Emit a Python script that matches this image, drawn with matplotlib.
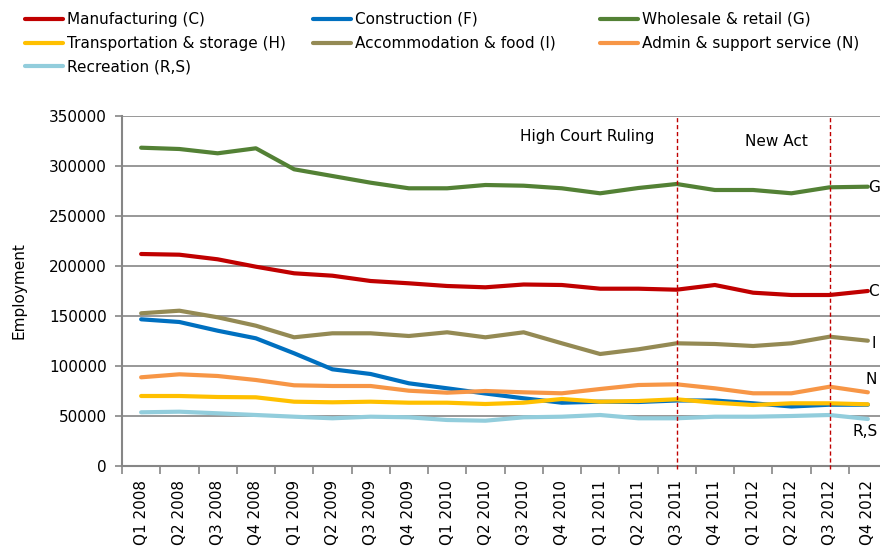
import matplotlib
matplotlib.use("Agg")
import matplotlib.pyplot as plt
import numpy as np

# data
quarters = ["Q1 2008", "Q2 2008", "Q3 2008", "Q4 2008",
            "Q1 2009", "Q2 2009", "Q3 2009", "Q4 2009",
            "Q1 2010", "Q2 2010", "Q3 2010", "Q4 2010",
            "Q1 2011", "Q2 2011", "Q3 2011", "Q4 2011",
            "Q1 2012", "Q2 2012", "Q3 2012", "Q4 2012"]

manufacturing = [212000, 211300, 206700, 199300, 192700, 190300, 185000, 182700, 180000, 178700,
                 181500, 181000, 177300, 177300, 176300, 181000, 173300, 171000, 171000, 175000]
construction = [146700, 144000, 135300, 127700, 112700, 96700, 92000, 82700, 77700, 72500,
                67700, 63300, 64300, 64000, 65500, 65500, 62700, 59500, 61300, 61300]
wholesale = [318300, 317000, 312700, 317700, 296700, 290000, 283300, 277700, 277700, 281000,
             280300, 277700, 272700, 278000, 282000, 276000, 276000, 272700, 278700, 279300]
transport = [70000, 70000, 69000, 68700, 64300, 63700, 64300, 63300, 63300, 62000,
             63300, 67000, 64300, 65000, 66700, 63300, 61000, 62700, 62700, 61700]
accommodation = [152700, 155300, 148700, 140300, 128700, 132700, 132700, 130000, 133700, 128700,
                 133700, 122700, 112000, 116700, 122700, 122000, 120000, 122700, 129300, 125300]
admin = [88700, 91700, 90000, 86000, 80700, 80000, 80000, 75300, 73300, 75000,
         73700, 72700, 77000, 81000, 81700, 77700, 72700, 72700, 79300, 73700]
recreation = [53700, 54300, 52700, 51000, 49300, 47700, 49300, 48700, 46000, 45300,
              48700, 49300, 51000, 47700, 47700, 49300, 49300, 50000, 51000, 47000]

series = [
    ("Manufacturing (C)", manufacturing, "#C00000"),
    ("Construction (F)", construction, "#0070C0"),
    ("Wholesale & retail (G)", wholesale, "#538135"),
    ("Transportation & storage (H)", transport, "#FFC000"),
    ("Accommodation & food (I)", accommodation, "#948A54"),
    ("Admin & support service (N)", admin, "#F79646"),
    ("Recreation (R,S)", recreation, "#92CDDC"),
]

end_labels = ["G", "C", "I", "N", "R,S"]
end_label_y = [279000, 175000, 122000, 87000, 35000]
end_label_x = [19.0, 19.0, 19.1, 18.95, 18.6]

events = ["High Court Ruling", "New Act"]
event_q = ["Q3 2011", "Q3 2012"]

grey = "#868686"
plt.rcParams["font.family"] = ["DejaVu Sans"]

fig = plt.figure(figsize=(8.8, 5.49), dpi=100)
ax = fig.add_axes([122 / 880, 1 - 466 / 549, 765 / 880, 350 / 549])

x = np.arange(len(quarters))
lines = {}
for name, vals, col in series:
    lines[name], = ax.plot(x, vals, color=col, lw=3, solid_capstyle="round", label=name, zorder=3)

ax.set_xlim(-0.5, len(quarters) - 0.5)
ax.set_ylim(0, 350000)
ax.set_yticks(np.arange(0, 350001, 50000))
ax.yaxis.grid(True, color=grey, lw=1.2)
ax.set_axisbelow(True)

ax.set_xticks(x)
ax.set_xticklabels(quarters, rotation=90, fontsize=11)
ax.set_xticks(np.arange(-0.5, len(quarters)), minor=True)
ax.tick_params(axis="x", which="major", length=0, pad=10)
ax.tick_params(axis="x", which="minor", length=6, color=grey, width=1.2)
ax.tick_params(axis="y", length=5, color=grey, width=1.2, pad=6, labelsize=11)

for s in ["top", "right"]:
    ax.spines[s].set_visible(False)
for s in ["left", "bottom"]:
    ax.spines[s].set_color(grey)
    ax.spines[s].set_linewidth(1.5)

ax.set_ylabel("Employment", fontsize=11, labelpad=16)

# event markers
for q in event_q:
    xi = quarters.index(q)
    ax.vlines(xi, -3000, 350000, colors="#C00000", linestyles=(0, (3, 2)), lw=1, clip_on=False, zorder=4)
ax.text(11.66, 329000, events[0], ha="center", va="center", fontsize=11)
ax.text(16.6, 324000, events[1], ha="center", va="center", fontsize=11)

for lab, lx, ly in zip(end_labels, end_label_x, end_label_y):
    ax.text(lx, ly, lab, ha="left", va="center", fontsize=11, clip_on=False)

# legend: three fixed columns, like the original layout
columns = [[0, 3, 6], [1, 4], [2, 5]]
col_x = [25, 313, 600]
for idx, cx in zip(columns, col_x):
    fig.legend([lines[series[i][0]] for i in idx], [series[i][0] for i in idx],
               loc="upper left", bbox_to_anchor=(cx / 880, 1 - 12 / 549), ncol=1,
               frameon=False, borderpad=0, borderaxespad=0, handlelength=2.5,
               handletextpad=0.25, labelspacing=0.58, fontsize=11)

fig.savefig("out.png", dpi=100)
